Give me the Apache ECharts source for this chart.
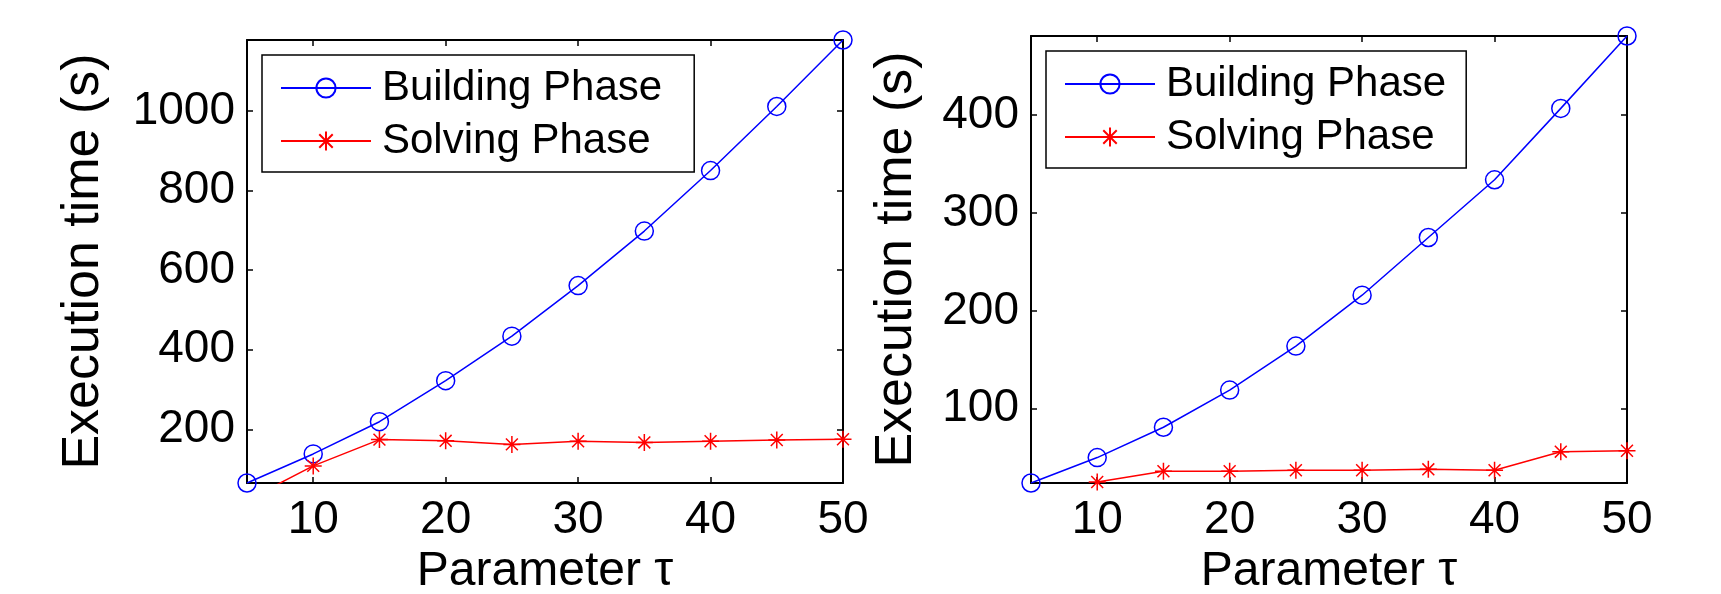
<!DOCTYPE html>
<html>
<head>
<meta charset="utf-8">
<script src="https://cdn.jsdelivr.net/npm/echarts@6/dist/echarts.min.js"></script>
<style>
html,body{margin:0;padding:0;background:#fff;}
#main{width:1721px;height:594px;}
</style>
</head>
<body>
<div id="main"></div>
<script>
// parameter tau on x, execution time (s) on y
var tau = [5, 10, 15, 20, 25, 30, 35, 40, 45, 50];
var buildLeft = [65, 138, 219, 322, 434, 561, 698, 850, 1011, 1178];
var solveLeft = [22, 108, 174, 171, 162, 170, 167, 170, 173, 175];
var buildRight = [24, 50, 81, 119, 164, 216, 275, 334, 407, 481];
var solveRight = [null, 25, 36, 36, 37, 37, 38, 37, 56, 57];
var xTicks = [10, 20, 30, 40, 50];
var yTicksLeft = [200, 400, 600, 800, 1000];
var yTicksRight = [100, 200, 300, 400];
var xRange = [5, 50];
var yRangeLeft = [65, 1178];
var yRangeRight = [24, 481];

var FONT = 'Liberation Sans, Arial, Helvetica, sans-serif';
var STAR = 'path://M10,0L10,20M0,10L20,10M3,3L17,17M3,17L17,3';

function pairs(vals) {
  return tau.map(function (t, i) { return [t, vals[i]]; });
}
function plain(v) { return String(v); }

function xAxes(gi) {
  var base = {
    type: 'value', gridIndex: gi, min: xRange[0], max: xRange[1],
    axisLine: {onZero: false, lineStyle: {color: '#000', width: 2}},
    axisTick: {inside: true, length: 6, customValues: xTicks, lineStyle: {color: '#000', width: 1.5}},
    splitLine: {show: false}
  };
  var bottom = Object.assign({}, base, {
    position: 'bottom',
    name: 'Parameter τ', nameLocation: 'middle', nameGap: 63,
    nameTextStyle: {fontSize: 48, color: '#000', fontFamily: FONT},
    axisLabel: {customValues: xTicks, formatter: plain, fontSize: 46, color: '#000', fontFamily: FONT, margin: 14}
  });
  var top = Object.assign({}, base, {position: 'top', axisLabel: {show: false}});
  return [bottom, top];
}

function yAxes(gi, range, ticks, gap) {
  var base = {
    type: 'value', gridIndex: gi, min: range[0], max: range[1],
    axisLine: {show: true, onZero: false, lineStyle: {color: '#000', width: 2}},
    axisTick: {show: true, inside: true, length: 6, customValues: ticks, lineStyle: {color: '#000', width: 1.5}},
    splitLine: {show: false}
  };
  var left = Object.assign({}, base, {
    position: 'left',
    name: 'Execution time (s)', nameLocation: 'middle', nameGap: gap,
    nameTextStyle: {fontSize: 52, color: '#000', fontFamily: FONT},
    axisLabel: {customValues: ticks, formatter: plain, fontSize: 46, color: '#000', fontFamily: FONT, margin: 12}
  });
  var right = Object.assign({}, base, {position: 'right', axisLabel: {show: false}});
  return [left, right];
}

function series(name, vals, gi, isBuild) {
  var color = isBuild ? '#0000ff' : '#ff0000';
  return {
    name: name, type: 'line', xAxisIndex: gi * 2, yAxisIndex: gi * 2,
    data: pairs(vals),
    symbol: isBuild ? 'circle' : STAR,
    symbolSize: isBuild ? 18 : 17,
    showAllSymbol: true,
    clip: true,
    lineStyle: {color: color, width: 1.5},
    itemStyle: {color: isBuild ? 'rgba(0,0,0,0)' : color, borderColor: color, borderWidth: 1.5},
    emphasis: {disabled: true},
    connectNulls: false
  };
}

function legend(left, top, padRight) {
  return {
    left: left, top: top, orient: 'vertical',
    data: ['Building Phase', 'Solving Phase'],
    selectedMode: false,
    backgroundColor: '#fff',
    borderColor: '#000', borderWidth: 1.5, borderRadius: 0,
    padding: [12, padRight, 10, 18],
    itemGap: 11, itemWidth: 90, itemHeight: 24,
    textStyle: {fontSize: 42, color: '#000', fontFamily: FONT, padding: [0, 0, 0, 6]}
  };
}

var chart = echarts.init(document.getElementById('main'));
var yl = yAxes(0, yRangeLeft, yTicksLeft, 137);
var yr = yAxes(1, yRangeRight, yTicksRight, 108);
var xl = xAxes(0);
var xr = xAxes(1);

chart.setOption({
  animation: false,
  backgroundColor: '#fff',
  grid: [
    {left: 247, top: 40, width: 596, height: 443, containLabel: false, outerBoundsMode: 'none'},
    {left: 1031, top: 36, width: 596, height: 447, containLabel: false, outerBoundsMode: 'none'}
  ],
  xAxis: [xl[0], xl[1], xr[0], xr[1]],
  yAxis: [yl[0], yl[1], yr[0], yr[1]],
  legend: [legend(262, 55, 32), legend(1046, 51, 20)],
  series: [
    series('Building Phase', buildLeft, 0, true),
    series('Solving Phase', solveLeft, 0, false),
    series('Building Phase', buildRight, 1, true),
    series('Solving Phase', solveRight, 1, false)
  ]
});
</script>
</body>
</html>
